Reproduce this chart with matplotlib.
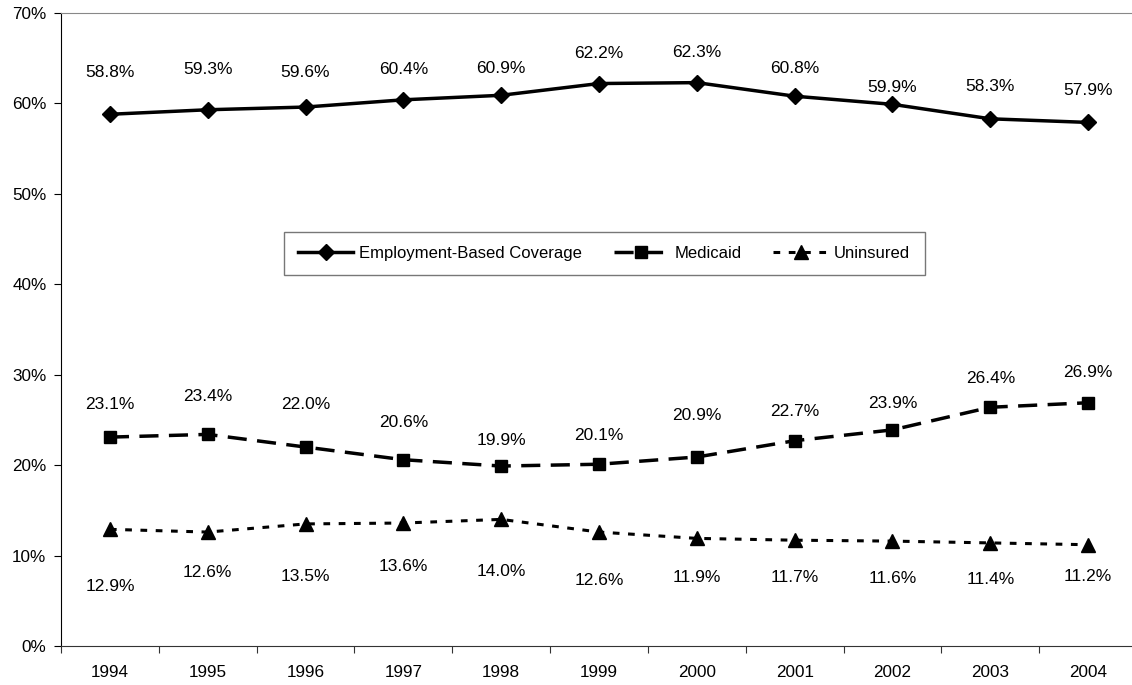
import numpy as np
import matplotlib
matplotlib.use("Agg")
import matplotlib.pyplot as plt

plt.rcParams['font.family'] = ['Liberation Sans', 'DejaVu Sans']

years = ['1994', '1995', '1996', '1997', '1998', '1999', '2000', '2001', '2002', '2003', '2004']
employment = [58.8, 59.3, 59.6, 60.4, 60.9, 62.2, 62.3, 60.8, 59.9, 58.3, 57.9]
medicaid = [23.1, 23.4, 22.0, 20.6, 19.9, 20.1, 20.9, 22.7, 23.9, 26.4, 26.9]
uninsured = [12.9, 12.6, 13.5, 13.6, 14.0, 12.6, 11.9, 11.7, 11.6, 11.4, 11.2]

# label offsets in pixels (as placed by hand in the original)
emp_off = [42, 40, 35, 30, 27, 30, 30, 28, 17, 32, 32]
med_off = [33, 38, 43, 37, 26, 29, 42, 29, 26, 29, 30]
uni_off = [-57, -40, -53, -43, -52, -48, -39, -37, -37, -37, -32]

fig = plt.figure(figsize=(11.32, 6.85), dpi=100)
ax = fig.add_axes([61/1132, 39/685, 1076/1132, 633/685])

x = np.arange(len(years))

ax.plot(x, employment, color='black', lw=2.5, marker='D', ms=8.5, label='Employment-Based Coverage')
ax.plot(x, medicaid, color='black', lw=2.5, marker='s', ms=8.5, dashes=(5.5, 3), label='Medicaid')
ax.plot(x, uninsured, color='black', lw=2.2, marker='^', ms=9.5, dashes=(2.2, 2.8), label='Uninsured')

for series, offs in [(employment, emp_off), (medicaid, med_off), (uninsured, uni_off)]:
    for xi, v, o in zip(x, series, offs):
        ax.annotate(f'{v:.1f}%', (xi, v), xytext=(0, o), textcoords='offset pixels',
                    ha='center', va='center', fontsize=12.5)

ax.set_xlim(-0.5, len(years) - 0.5)
ax.set_ylim(0, 70)
ax.set_yticks(np.arange(0, 71, 10))
ax.set_yticklabels([f'{t}%' for t in range(0, 71, 10)], fontsize=12.3)

ax.set_xticks(np.arange(-0.5, len(years), 1))
ax.set_xticklabels([])
ax.set_xticks(x, minor=True)
ax.set_xticklabels(years, minor=True, fontsize=12.3)
ax.tick_params(axis='x', which='minor', length=0, pad=14)
ax.tick_params(axis='x', which='major', length=5, direction='out', color='#333333')
ax.tick_params(axis='y', length=5, direction='out', pad=5.5)

ax.spines['right'].set_visible(False)
ax.spines['top'].set_color('#888888')
ax.spines['bottom'].set_color('#333333')
ax.spines['left'].set_color('black')

leg = ax.legend(loc='center', bbox_to_anchor=(0.505, 0.62), ncol=3, fontsize=12,
                frameon=True, fancybox=False, edgecolor='#555555', handlelength=3.3,
                columnspacing=1.9, borderpad=0.85, handletextpad=0.35, borderaxespad=0)
leg.get_frame().set_linewidth(1.0)

fig.savefig('out.png', dpi=100)
